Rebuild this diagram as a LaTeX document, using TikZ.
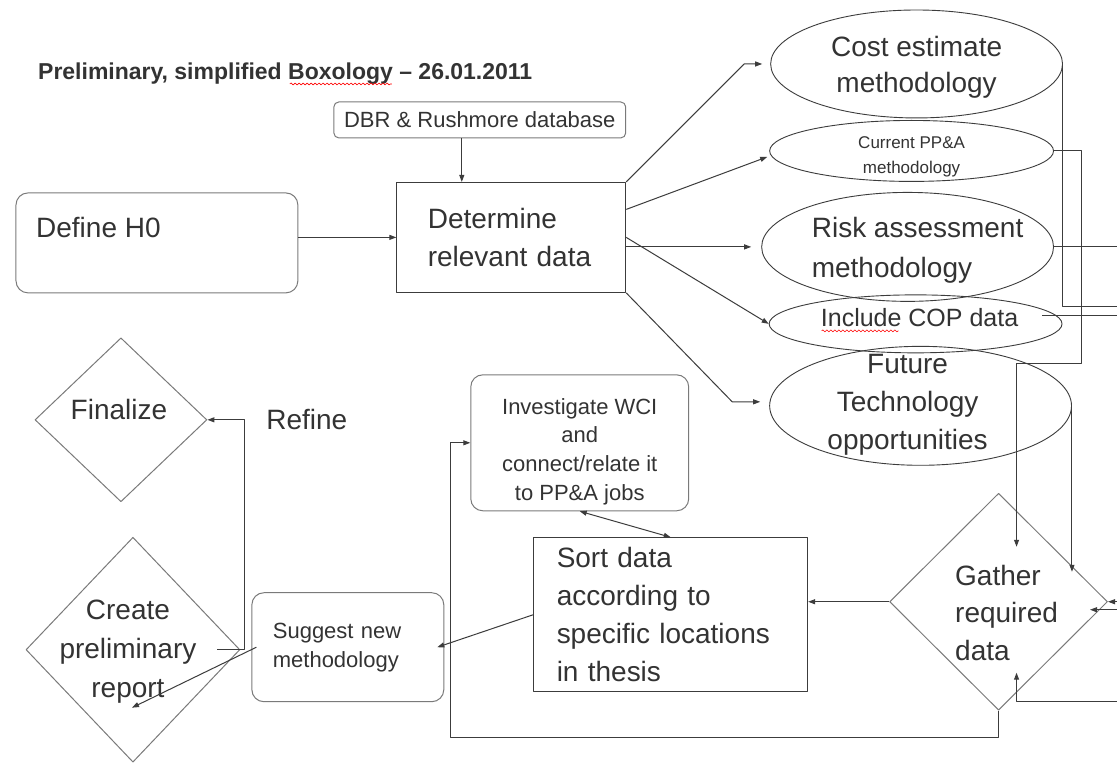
\documentclass[tikz,border=0pt]{standalone}
\usepackage{fontspec}
\setmainfont{Liberation Sans}
\usetikzlibrary{arrows.meta, shapes.geometric, calc, decorations.pathmorphing}
\definecolor{ink}{HTML}{333333}
\definecolor{edge}{HTML}{3C3C3C}
\definecolor{soft}{HTML}{7A7A7A}
\tikzstyle{arrow} = [edge, line width=1pt, -{Triangle[length=7pt, width=5pt]}]
\tikzstyle{both} = [edge, line width=1pt, {Triangle[length=7pt, width=5pt]}-{Triangle[length=7pt, width=5pt]}]
\tikzstyle{conn} = [edge, line width=1pt]
\tikzstyle{rbox} = [draw=soft, line width=1pt, rounded corners=12pt, inner sep=0pt]
\tikzstyle{sbox} = [draw=edge, line width=1pt, rectangle, inner sep=0pt]
\tikzstyle{oval} = [draw=edge, line width=0.9pt, ellipse, inner sep=0pt]
\tikzstyle{decide} = [draw=soft, line width=1pt, diamond, inner sep=0pt]
\tikzstyle{bigtext} = [text=ink, font=\fontsize{28}{38}\selectfont]
\tikzstyle{smalltext} = [text=ink, font=\fontsize{22}{29}\selectfont]
\tikzstyle{spell} = [red, line width=0.6pt, decorate, decoration={snake, amplitude=1pt, segment length=4pt}]

\begin{document}
\begin{tikzpicture}[x=1pt, y=-1pt, line join=round]
    \fill[white] (0,0) rectangle (1117,763);

    % Title
    \node[anchor=base west, text=ink, font=\fontsize{23}{28}\selectfont\bfseries, inner sep=0pt]
      (title) at (38,80) {Preliminary, simplified Boxology – 26.01.2011};
    \draw[spell] (290,84) -- (392,84);

    % Start boxes
    \node[rbox, rounded corners=5pt, smalltext, minimum width=292, minimum height=36]
      (dbr) at (480,120) {DBR \& Rushmore database};
    \node[sbox, bigtext, align=left, text width=167, inner xsep=31, minimum height=110]
      (det) at (511.5,237.5) {Determine\\relevant data};
    \node[rbox, minimum width=282, minimum height=100] (h0) at (157,243) {};
    \node[bigtext, anchor=base west, inner sep=0pt] (h0-txt) at (36,238) {Define H0};

    % Methodologies
    \node[oval, minimum width=292, minimum height=108] (cost) at (917,64) {};
    \node[bigtext, align=center, font=\fontsize{28}{36}\selectfont] (cost-txt) at (917,67)
      {Cost estimate\\methodology};
    \node[oval, minimum width=284, minimum height=61] (ppa) at (912,151) {};
    \node[text=ink, font=\fontsize{17}{25}\selectfont, align=center] (ppa-txt) at (912,157)
      {Current PP\&A\\methodology};
    \node[oval, minimum width=292, minimum height=109] (risk) at (908,247) {};
    \node[bigtext, align=left, font=\fontsize{28}{40}\selectfont] (risk-txt) at (918,250)
      {Risk assessment\\methodology};
    \node[oval, minimum width=293, minimum height=58] (cop) at (916,324) {};
    \node[text=ink, font=\fontsize{25}{30}\selectfont] (cop-txt) at (920,318) {Include COP data};
    \draw[spell] (822,331) -- (899,331);
    \node[oval, minimum width=302, minimum height=119] (fut) at (921,406) {};
    \node[bigtext, align=center] (fut-txt) at (908,405) {Future\\Technology\\opportunities};

    % Work boxes
    \node[decide, minimum width=218, minimum height=217] (gat) at (999,602) {};
    \node[bigtext, align=left, font=\fontsize{28}{37.5}\selectfont] (gat-txt) at (1007,613)
      {Gather\\required\\data};
    \node[sbox, bigtext, align=left, text width=228, inner xsep=23, minimum height=154]
      (sort) at (671,615) {Sort data\\according to\\specific locations\\in thesis};
    \node[rbox, minimum width=218, minimum height=136] (inv) at (580,443) {};
    \node[smalltext, align=center] (inv-txt) at (580,452)
      {Investigate WCI\\and\\connect/relate it\\to PP\&A jobs};
    \node[rbox, smalltext, align=left, text width=150, inner xsep=21, minimum height=109]
      (sug) at (348,647.5) {Suggest new\\methodology};

    % Report
    \node[decide, minimum width=214, minimum height=225] (cre) at (133,650) {};
    \node[bigtext, align=center, font=\fontsize{28}{39}\selectfont] (cre-txt) at (128,652)
      {Create\\preliminary\\report};
    \node[decide, minimum width=172, minimum height=164] (fin) at (121,420) {};
    \node[bigtext] (fin-txt) at (119,410) {Finalize};
    \node[bigtext] (refine) at (307,420) {Refine};

    % Loose ends at the right border
    \coordinate (out1) at (1117,307);
    \coordinate (out2) at (1117,247);
    \coordinate (out3) at (1117,316);
    \coordinate (out4) at (1117,602);
    \coordinate (out5) at (1117,610);
    \coordinate (out6) at (1117,702);

    % Into Determine
    \draw[arrow] ([xshift=-18pt]dbr.south) -- ([xshift=-18pt]dbr.south |- det.north);
    \draw[arrow] (h0.east |- det.west) -- (det.west);

    % Determine to the methodologies
    \draw[arrow] (det.north east) -- ([xshift=-26pt]cost.west) -- ([xshift=-8pt]cost.west);
    \draw[arrow] ([yshift=28pt]det.east) -- ([xshift=-2pt,yshift=-6pt]ppa.west);
    \draw[arrow] (det.east |- risk.west) -- ([xshift=-10pt]risk.west);
    \draw[arrow] (det.east) -- (cop.west);
    \draw[arrow] (det.south east) -- ([xshift=-37pt,yshift=4pt]fut.west)
      -- ([xshift=-9pt,yshift=4pt]fut.west);

    % Methodologies to Gather
    \draw[conn] (cost.east) |- (out1);
    \draw[arrow] (ppa.east) -- ++(28,0) |- ($(gat.center)+(18,-238)$)
      -- ($(gat.center)+(18,-55)$);
    \draw[conn] (risk.east) -- (out2);
    \draw[conn] ([xshift=-20pt,yshift=8pt]cop.east) -- (out3);
    \draw[arrow] (fut.east) -- ($(fut.east)+(0,166)$);
    \draw[arrow] (out4) -- (gat.east);
    \draw[arrow] (out5) -- ($(gat.east)+(-18,8)$);
    \draw[arrow] (out6) -| ($(gat.center)+(18,71)$);

    % Loop back and sorting
    \draw[arrow] (gat.south) -- ++(0,27) -| ([xshift=-20pt]inv.west) -- (inv.west);
    \draw[arrow] (gat.west) -- (sort.east |- gat.west);
    \draw[both] (inv.south) -- (sort.north);
    \draw[arrow] (sort.west) -- ([xshift=-7pt]sug.east);
    \draw[arrow] ([xshift=5pt]sug.west) -- ($(cre.center)+(-1,58)$);
    \draw[arrow] ([xshift=-23pt]cre.east) -- ++(27,0) |- (fin.east);
\end{tikzpicture}
\end{document}
